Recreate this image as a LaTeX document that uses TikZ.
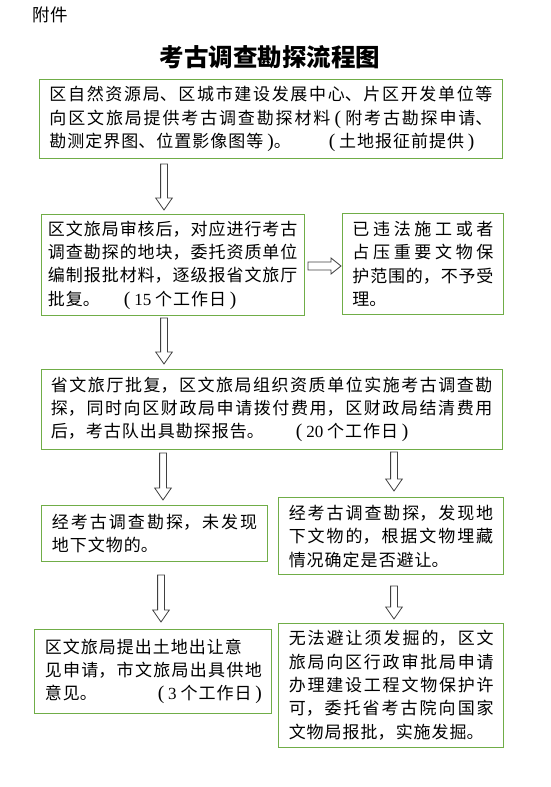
\documentclass[tikz,border=0pt]{standalone}
\usepackage{fontspec}
\setmainfont{Noto Sans CJK SC}
\newfontfamily\numfont{Liberation Serif}
\usetikzlibrary{calc}
\XeTeXlinebreaklocale "zh"
\XeTeXlinebreakskip=1pt plus 4pt minus 1.5pt
\definecolor{boxgreen}{RGB}{112,173,71}
\definecolor{arrowgray}{RGB}{64,64,64}
\tikzset{
  flowbox/.style={draw=boxgreen, line width=0.9pt, anchor=north west,
    inner xsep=10pt, inner ysep=0pt, align=justify,
    font=\fontsize{17}{23.3}\selectfont},
  hollowarrow/.style={draw=arrowgray, fill=white, line width=0.8pt},
}
% serif brackets
\newcommand\lpar{{\numfont\fontsize{19.5}{23.3}\selectfont (}}
\newcommand\rpar{{\numfont\fontsize{19.5}{23.3}\selectfont )}}
% hollow block arrow pointing down, from #1 to the tip #2
\newcommand\downflow[2]{\draw[hollowarrow] ($(#1)+(-3.4,0)$)
 --($(#2)+(-3.4,-12)$) --($(#2)+(-8.3,-12)$) --(#2)
 --($(#2)+(8.3,-12)$) --($(#2)+(3.4,-12)$) --($(#1)+(3.4,0)$) --cycle;}
\begin{document}
\begin{tikzpicture}[x=1pt,y=-1pt]
\useasboundingbox (0,0) rectangle (551,787);
\node[anchor=west, font=\fontsize{17.5}{20}\selectfont] (annex) at (29,15) {附件};
\node[font=\fontsize{24.5}{30}\selectfont\bfseries] (title) at (270,57) {考古调查勘探流程图};
% boxes
\node[flowbox, text width=443pt, minimum height=79pt] (apply) at (39,79)
 {区自然资源局、区城市建设发展中心、片区开发单位等\linebreak
  向区文旅局提供考古调查勘探材料 \lpar{} 附考古勘探申请、\linebreak
  勘测定界图、位置影像图等 \rpar。\hspace{38pt}\lpar{} 土地报征前提供 \rpar};
\node[flowbox, inner xsep=7pt, text width=249.5pt, minimum height=101pt] (review) at (40.5,214)
 {区文旅局审核后，对应进行考古\linebreak
  调查勘探的地块，委托资质单位\linebreak
  编制报批材料，逐级报省文旅厅\linebreak
  批复。\hspace{24pt}\lpar{} {\numfont 15} 个工作日 \rpar};
\node[flowbox, text width=141pt, minimum height=101pt] (reject) at (342,213)
 {已违法施工或者\linebreak
  占压重要文物保\linebreak
  护范围的，不予受\linebreak
  理。};
\node[flowbox, text width=441.5pt, minimum height=80pt] (survey) at (40.5,369)
 {省文旅厅批复，区文旅局组织资质单位实施考古调查勘\linebreak
  探，同时向区财政局申请拨付费用，区财政局结清费用\linebreak
  后，考古队出具勘探报告。\hspace{32pt}\lpar{} {\numfont 20} 个工作日 \rpar};
\node[flowbox, text width=205.3pt, minimum height=56pt] (nofind) at (41.4,505)
 {经考古调查勘探，未发现\linebreak
  地下文物的。};
\node[flowbox, text width=204.5pt, minimum height=77pt] (found) at (278.3,497.3)
 {经考古调查勘探，发现地\linebreak
  下文物的，根据文物埋藏\linebreak
  情况确定是否避让。};
\node[flowbox, text width=217pt, minimum height=83.4pt] (transfer) at (34.4,629.3)
 {区文旅局提出土地出让意\\
  见申请，市文旅局出具供地\linebreak
  意见。\hfill\lpar{} {\numfont 3} 个工作日 \rpar};
\node[flowbox, text width=205pt, minimum height=124pt] (excavate) at (278.3,622.7)
 {无法避让须发掘的，区文\linebreak
  旅局向区行政审批局申请\linebreak
  办理建设工程文物保护许\linebreak
  可，委托省考古院向国家\linebreak
  文物局报批，实施发掘。};
% arrow ends
\coordinate (a1s) at (164,164); \coordinate (a1e) at (164,210);
\coordinate (a2s) at (164,318); \coordinate (a2e) at (164,364);
\coordinate (a3s) at (163,453); \coordinate (a3e) at (163,500);
\coordinate (a4s) at (394,452); \coordinate (a4e) at (394,491);
\coordinate (a5s) at (161,575); \coordinate (a5e) at (161,622);
\coordinate (a6s) at (394,586); \coordinate (a6e) at (394,619);
\coordinate (r1) at (308,266); \coordinate (r2) at (341,266);
\downflow{a1s}{a1e}
\downflow{a2s}{a2e}
\downflow{a3s}{a3e}
\downflow{a4s}{a4e}
\downflow{a5s}{a5e}
\downflow{a6s}{a6e}
\draw[hollowarrow] ($(r1)+(0,-4)$) --($(r2)+(-10,-4)$) --($(r2)+(-10,-8)$) --(r2)
 --($(r2)+(-10,8)$) --($(r2)+(-10,4)$) --($(r1)+(0,4)$) --cycle;
\end{tikzpicture}
\end{document}
